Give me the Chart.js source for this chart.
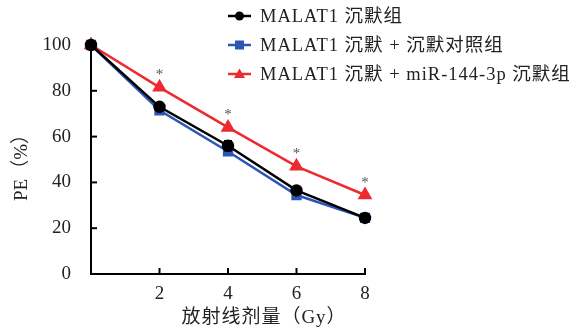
<!DOCTYPE html>
<html>
<head>
<meta charset="utf-8">
<script src="https://cdn.jsdelivr.net/npm/chart.js@4/dist/chart.umd.min.js"></script>
<style>
  html, body { margin: 0; padding: 0; background: #fff; }
  #wrap { width: 581px; height: 331px; }
</style>
</head>
<body>
<div id="wrap"><canvas id="c" width="581" height="331"></canvas></div>
<script>
// Radiation dose (Gy) and plating efficiency (%) per group
const doses = [0, 2, 4, 6, 8];
const seriesLabels = [
  'MALAT1 沉默组',
  'MALAT1 沉默 + 沉默对照组',
  'MALAT1 沉默 + miR-144-3p 沉默组'
];
const malatSi = [100, 73, 56, 36.5, 24.5];
const malatSiNc = [100, 71.5, 53.5, 34.5, 24.5];
const malatSiMir = [100, 81.5, 64, 47, 34.5];
const malatSiErr = [0, 1.2, 2.2, 1, 0.8];
const sigMarks = ['', '*', '*', '*', '*'];
const yTicks = [0, 20, 40, 60, 80, 100];
const xTicks = [2, 4, 6, 8];
const yTitle = 'PE（%）';
const xTitle = '放射线剂量（Gy）';

const FONT = '"Liberation Serif", "Noto Sans CJK SC", serif';
const toPts = vals => doses.map((d, i) => ({ x: d, y: vals[i] }));

// Axis ticks drawn inward, titles, error bars, significance marks and legend
const decor = {
  id: 'decor',
  afterDatasetsDraw(chart) {
    const ctx = chart.ctx;
    const xs = chart.scales.x, ys = chart.scales.y;
    const a = chart.chartArea;
    ctx.save();
    ctx.strokeStyle = '#000';
    ctx.lineWidth = 2;
    yTicks.forEach(v => {
      const y = ys.getPixelForValue(v);
      ctx.beginPath(); ctx.moveTo(a.left, y); ctx.lineTo(a.left + 6, y); ctx.stroke();
    });
    xTicks.forEach(v => {
      const x = xs.getPixelForValue(v);
      ctx.beginPath(); ctx.moveTo(x, a.bottom); ctx.lineTo(x, a.bottom - 6); ctx.stroke();
    });

    // error bars on the first group
    const m0 = chart.getDatasetMeta(0);
    ctx.lineWidth = 1.5;
    m0.data.forEach((p, i) => {
      const e = malatSiErr[i];
      if (!e) return;
      const y1 = ys.getPixelForValue(malatSi[i] + e);
      const y2 = ys.getPixelForValue(malatSi[i] - e);
      ctx.beginPath();
      ctx.moveTo(p.x, y1); ctx.lineTo(p.x, y2);
      ctx.moveTo(p.x - 4, y1); ctx.lineTo(p.x + 4, y1);
      ctx.moveTo(p.x - 4, y2); ctx.lineTo(p.x + 4, y2);
      ctx.stroke();
    });

    // significance asterisks above the miR-144-3p group
    const m2 = chart.getDatasetMeta(2);
    ctx.fillStyle = '#555';
    ctx.font = '15px ' + FONT;
    ctx.textAlign = 'center';
    ctx.textBaseline = 'middle';
    m2.data.forEach((p, i) => {
      if (sigMarks[i]) ctx.fillText(sigMarks[i], p.x, p.y - 12);
    });

    // axis titles
    ctx.fillStyle = '#222';
    ctx.font = '19px ' + FONT;
    ctx.letterSpacing = '1px';
    ctx.fillText(xTitle, 264, 318);
    ctx.save();
    ctx.translate(22, 163);
    ctx.rotate(-Math.PI / 2);
    ctx.letterSpacing = '0px';
    ctx.fillText(yTitle, 0, 0);
    ctx.restore();

    // legend
    ctx.font = '18.5px ' + FONT;
    ctx.letterSpacing = '1px';
    ctx.textAlign = 'left';
    chart.data.datasets.forEach((ds, i) => {
      const y = 16 + i * 29;
      ctx.strokeStyle = ds.borderColor;
      ctx.lineWidth = 2.5;
      ctx.beginPath(); ctx.moveTo(228, y); ctx.lineTo(251, y); ctx.stroke();
      ctx.fillStyle = ds.backgroundColor;
      const cx = 239.5;
      ctx.beginPath();
      if (ds.pointStyle === 'circle') {
        ctx.arc(cx, y, 4.5, 0, Math.PI * 2);
      } else if (ds.pointStyle === 'rect') {
        ctx.rect(cx - 4.5, y - 4.5, 9, 9);
      } else {
        ctx.moveTo(cx, y - 5.5); ctx.lineTo(cx + 5.5, y + 4); ctx.lineTo(cx - 5.5, y + 4); ctx.closePath();
      }
      ctx.fill();
      ctx.fillStyle = '#222';
      ctx.fillText(ds.label, 260, y + 1);
    });
    ctx.restore();
  }
};

new Chart(document.getElementById('c'), {
  type: 'line',
  data: {
    datasets: [
      { label: seriesLabels[0], data: toPts(malatSi), borderColor: '#000', backgroundColor: '#000',
        pointStyle: 'circle', pointRadius: 5, borderWidth: 2.5, order: 0 },
      { label: seriesLabels[1], data: toPts(malatSiNc), borderColor: '#2a56b8', backgroundColor: '#2a56b8',
        pointStyle: 'rect', pointRadius: 5.5, borderWidth: 2.5, order: 2 },
      { label: seriesLabels[2], data: toPts(malatSiMir), borderColor: '#ec2a2f', backgroundColor: '#ec2a2f',
        pointStyle: 'triangle', pointRadius: 6, borderWidth: 2.5, order: 1 }
    ]
  },
  options: {
    responsive: false,
    animation: false,
    events: [],
    clip: false,
    layout: { padding: { left: 0, right: 216, top: 45, bottom: 0 } },
    plugins: { legend: { display: false }, tooltip: { enabled: false } },
    scales: {
      x: {
        type: 'linear', min: 0, max: 8,
        afterFit: s => { s.height = 57; },
        afterBuildTicks: s => { s.ticks = xTicks.map(v => ({ value: v })); },
        grid: { display: false },
        border: { display: true, color: '#000', width: 2 },
        ticks: { color: '#222', font: { family: FONT, size: 19 }, padding: 1 }
      },
      y: {
        min: 0, max: 100,
        afterFit: s => { s.width = 91; },
        afterBuildTicks: s => { s.ticks = yTicks.map(v => ({ value: v })); },
        grid: { display: false },
        border: { display: true, color: '#000', width: 2 },
        ticks: { color: '#222', font: { family: FONT, size: 19 }, padding: 12 }
      }
    }
  },
  plugins: [decor]
});
</script>
</body>
</html>
